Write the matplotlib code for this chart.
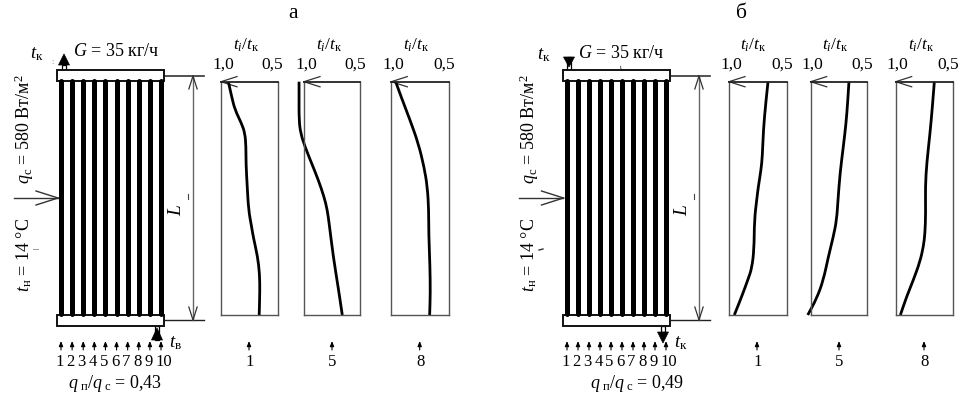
import matplotlib

matplotlib.use("Agg")
import matplotlib.pyplot as plt
from matplotlib.patches import PathPatch, Polygon, Rectangle
from matplotlib.path import Path

W, H = 962, 398

plt.rcParams["font.family"] = ["Liberation Serif", "DejaVu Serif"]
plt.rcParams["mathtext.fontset"] = "custom"
plt.rcParams["mathtext.rm"] = "Liberation Serif"
plt.rcParams["mathtext.it"] = "Liberation Serif:italic"

# profiles: t_i/t_k ratio and distance from the top of the tube (fraction of L)
tube_labels = ["1", "5", "8"]
tube_numbers = ["1", "2", "3", "4", "5", "6", "7", "8", "9", "10"]

a1_ratio = [.935, .906, .876, .818, .788, .779, .779, .768, .756, .73, .715, .676, .659, .656, .662]
a1_depth = [0, .064, .121, .179, .221, .279, .35, .45, .55, .62, .664, .75, .821, .893, 1]
a5_ratio = [1.044, 1.044, 1.044, 1.03, .991, .932, .873, .822, .793, .775, .74, .695, .66]
a5_depth = [0, .064, .164, .221, .279, .35, .421, .493, .55, .614, .75, .886, 1]
a8_ratio = [.962, .91, .837, .765, .715, .686, .674, .674, .663, .66, .666]
a8_depth = [0, .071, .164, .264, .364, .45, .55, .65, .793, .907, 1]

b1_ratio = [.662, .682, .702, .711, .723, .746, .76, .78, .783, .803, .832, .89, .954]
b1_depth = [0, .093, .207, .321, .379, .45, .507, .593, .721, .8, .843, .921, 1]
b5_ratio = [.662, .674, .688, .712, .741, .759, .771, .8, .844, .888, .947, 1.026]
b5_depth = [0, .093, .179, .279, .393, .507, .593, .664, .75, .85, .929, 1]
b8_ratio = [.661, .678, .699, .728, .74, .737, .743, .757, .787, .845, .904, .959]
b8_depth = [0, .107, .221, .35, .45, .564, .65, .707, .771, .85, .921, 1]

a_curves = [(a1_ratio, a1_depth), (a5_ratio, a5_depth), (a8_ratio, a8_depth)]
b_curves = [(b1_ratio, b1_depth), (b5_ratio, b5_depth), (b8_ratio, b8_depth)]

fig = plt.figure(figsize=(W / 100, H / 100), dpi=100)
canvas = fig.add_axes([0, 0, 1, 1])
canvas.set_xlim(0, W)
canvas.set_ylim(H, 0)
canvas.axis("off")

FS = 12.5
TOP, BOTTOM = 81.7, 315
ARROW = dict(arrowstyle="-|>,head_width=0.12,head_length=0.3", color="black", lw=0.8, shrinkA=0, shrinkB=0)


def open_head(x, y, dx, dy, color="#333333"):
    # open arrow head with tip at x,y, opening towards dx,dy
    side = (-dy * 0.32, dx * 0.32)
    for s in (1, -1):
        canvas.plot([x, x + dx + s * side[0]], [y, y + dy + s * side[1]], color=color, lw=0.9, zorder=5)


def smooth_path(xs, ys):
    # quadratic segments through the midpoints, so the curve has no corners
    verts = [(xs[0], ys[0])]
    codes = [Path.MOVETO]
    for i in range(1, len(xs) - 1):
        verts += [(xs[i], ys[i]), ((xs[i] + xs[i + 1]) / 2, (ys[i] + ys[i + 1]) / 2)]
        codes += [Path.CURVE3, Path.CURVE3]
    verts.append((xs[-1], ys[-1]))
    codes.append(Path.LINETO)
    return Path(verts, codes)


def profile(x0, x1, curve, tube, tube_x, ylabel_x):
    ax = fig.add_axes([x0 / W, 1 - BOTTOM / H, (x1 - x0) / W, (BOTTOM - TOP) / H])
    ax.patch.set_alpha(0)
    ax.add_patch(PathPatch(smooth_path(curve[0], curve[1]), fc="none", ec="black", lw=2.0, clip_on=False))
    ax.set_xlim(1.0, 0.5)
    ax.set_ylim(1, 0)
    ax.set_xticks([])
    ax.set_yticks([])
    for s in ax.spines.values():
        s.set_color("#555555")
        s.set_linewidth(1.0)
    ax.spines["top"].set_color("#222222")
    ax.spines["top"].set_linewidth(1.3)
    canvas.text(x0 + 2, 64.5, "1,0", fontsize=FS, ha="center", va="center")
    canvas.text(x1 - 5, 64.5, "0,5", fontsize=FS, ha="center", va="center")
    canvas.text(ylabel_x, 45, r"$t_i/t_{\mathrm{к}}$", fontsize=FS, ha="center", va="center")
    open_head(x0, TOP, 16, 0)
    canvas.annotate("", (tube_x, 341), (tube_x, 350), arrowprops=ARROW)
    canvas.text(tube_x + 0.5, 362, tube, fontsize=FS - 0.5, ha="center", va="center")


def collector(hx0, hx1, tx0, tx1, dim_x, dim_end):
    step = (tx1 - tx0) / 9
    for i, num in enumerate(tube_numbers):
        x = tx0 + i * step
        canvas.plot([x, x], [81, 313.5], color="black", lw=3.6, solid_capstyle="round", zorder=4)
        canvas.annotate("", (x, 341), (x, 350), arrowprops=ARROW)
        canvas.text(x + (2.5 if num == "10" else -1.5), 362, num, fontsize=FS - 0.5, ha="center", va="center")
    for y0, y1 in ((70, 81), (314.5, 326)):
        canvas.add_patch(Rectangle((hx0, y0), hx1 - hx0, y1 - y0, fc="white", ec="#111111", lw=1.4, zorder=3))
    canvas.plot([hx1, dim_end], [75.5, 75.5], color="#333333", lw=1.2)
    canvas.plot([hx1, dim_end], [320, 320], color="#222222", lw=1.0)
    canvas.plot([dim_x, dim_x], [76, 320], color="#666666", lw=1.0)
    open_head(dim_x, 76, 0, 13)
    open_head(dim_x, 320, 0, -13)
    canvas.text(dim_x - 16, 211, "L", fontsize=FS + 1.5, style="italic", rotation=90, ha="center", va="center")
    canvas.plot([dim_x - 5, dim_x - 5], [194, 199], color="#444444", lw=0.8)


def triangle(x, tip, base, stem_y):
    canvas.add_patch(Rectangle((x - 2, min(base, stem_y)), 4, abs(base - stem_y), fc="white", ec="black", lw=0.9))
    canvas.add_patch(Polygon([(x - 5.5, base), (x + 5.5, base), (x, tip)], fc="black", ec="black", lw=0.5, zorder=4))


def side_labels(x, arrow_tip, y_q, y_t):
    canvas.text(x, y_q, r"$q_{\mathrm{с}}$ = 580 Вт/м$^2$", fontsize=FS + 0.5, rotation=90, ha="center", va="center")
    canvas.text(x, y_t, r"$t_{\mathrm{н}}$ = 14 °C", fontsize=FS + 0.5, rotation=90, ha="center", va="center")
    canvas.plot([arrow_tip - 44, arrow_tip], [198, 198], color="#333333", lw=1.0)
    canvas.plot([arrow_tip - 22, arrow_tip], [191, 198], color="#333333", lw=1.0)
    canvas.plot([arrow_tip - 22, arrow_tip], [205, 198], color="#333333", lw=1.0)


# panel a
canvas.text(293, 14, "а", fontsize=FS + 3, ha="center", va="center")
collector(57, 164.5, 61, 161, 193, 204)
triangle(64, 54, 65, 70)
triangle(157, 328, 340, 326)
side_labels(24, 58, 129, 255)
canvas.text(37, 54, r"$t_{\mathrm{к}}$", fontsize=FS + 1, ha="center", va="center")
canvas.text(116, 52, r"$G$ = 35 кг/ч", fontsize=FS + 0.5, ha="center", va="center")
canvas.text(175, 343, r"$t_{\mathrm{в}}$", fontsize=FS + 1, ha="center", va="center")
canvas.text(115, 383, r"$q_{\mathrm{\ п}}/q_{\mathrm{\ с}}$ = 0,43", fontsize=FS + 0.5, ha="center", va="center")
canvas.text(53, 62, ":", fontsize=6, color="#777777", ha="center", va="center")
canvas.plot([33, 38], [249, 249], color="#999999", lw=0.7)

# panel b
canvas.text(742, 14, "б", fontsize=FS + 3, ha="center", va="center")
collector(562.7, 670.3, 567, 666, 699, 710)
triangle(569, 67, 57, 70)
triangle(663, 343, 332, 326)
side_labels(529, 563.5, 129, 255)
canvas.text(544, 55, r"$t_{\mathrm{к}}$", fontsize=FS + 1, ha="center", va="center")
canvas.text(621, 53, r"$G$ = 35 кг/ч", fontsize=FS + 0.5, ha="center", va="center")
canvas.text(681, 343, r"$t_{\mathrm{к}}$", fontsize=FS + 1, ha="center", va="center")
canvas.text(637, 383, r"$q_{\mathrm{\ п}}/q_{\mathrm{\ с}}$ = 0,49", fontsize=FS + 0.5, ha="center", va="center")
canvas.plot([539, 543], [250, 249], color="#333333", lw=1.0)
canvas.plot([620.5, 621], [66.5, 69], color="#555555", lw=0.7)

# temperature profiles
a_boxes = [(221, 277.5, 249, 246), (304, 360.3, 332, 329), (391.3, 448.7, 419.7, 416)]
b_boxes = [(729, 786.7, 757, 753), (810.7, 867.3, 839, 835), (895.7, 952.7, 924, 921)]
for box, curve, label in zip(a_boxes, a_curves, tube_labels):
    profile(box[0], box[1], curve, label, box[2], box[3])
for box, curve, label in zip(b_boxes, b_curves, tube_labels):
    profile(box[0], box[1], curve, label, box[2], box[3])

fig.savefig("out.png", dpi=100)
